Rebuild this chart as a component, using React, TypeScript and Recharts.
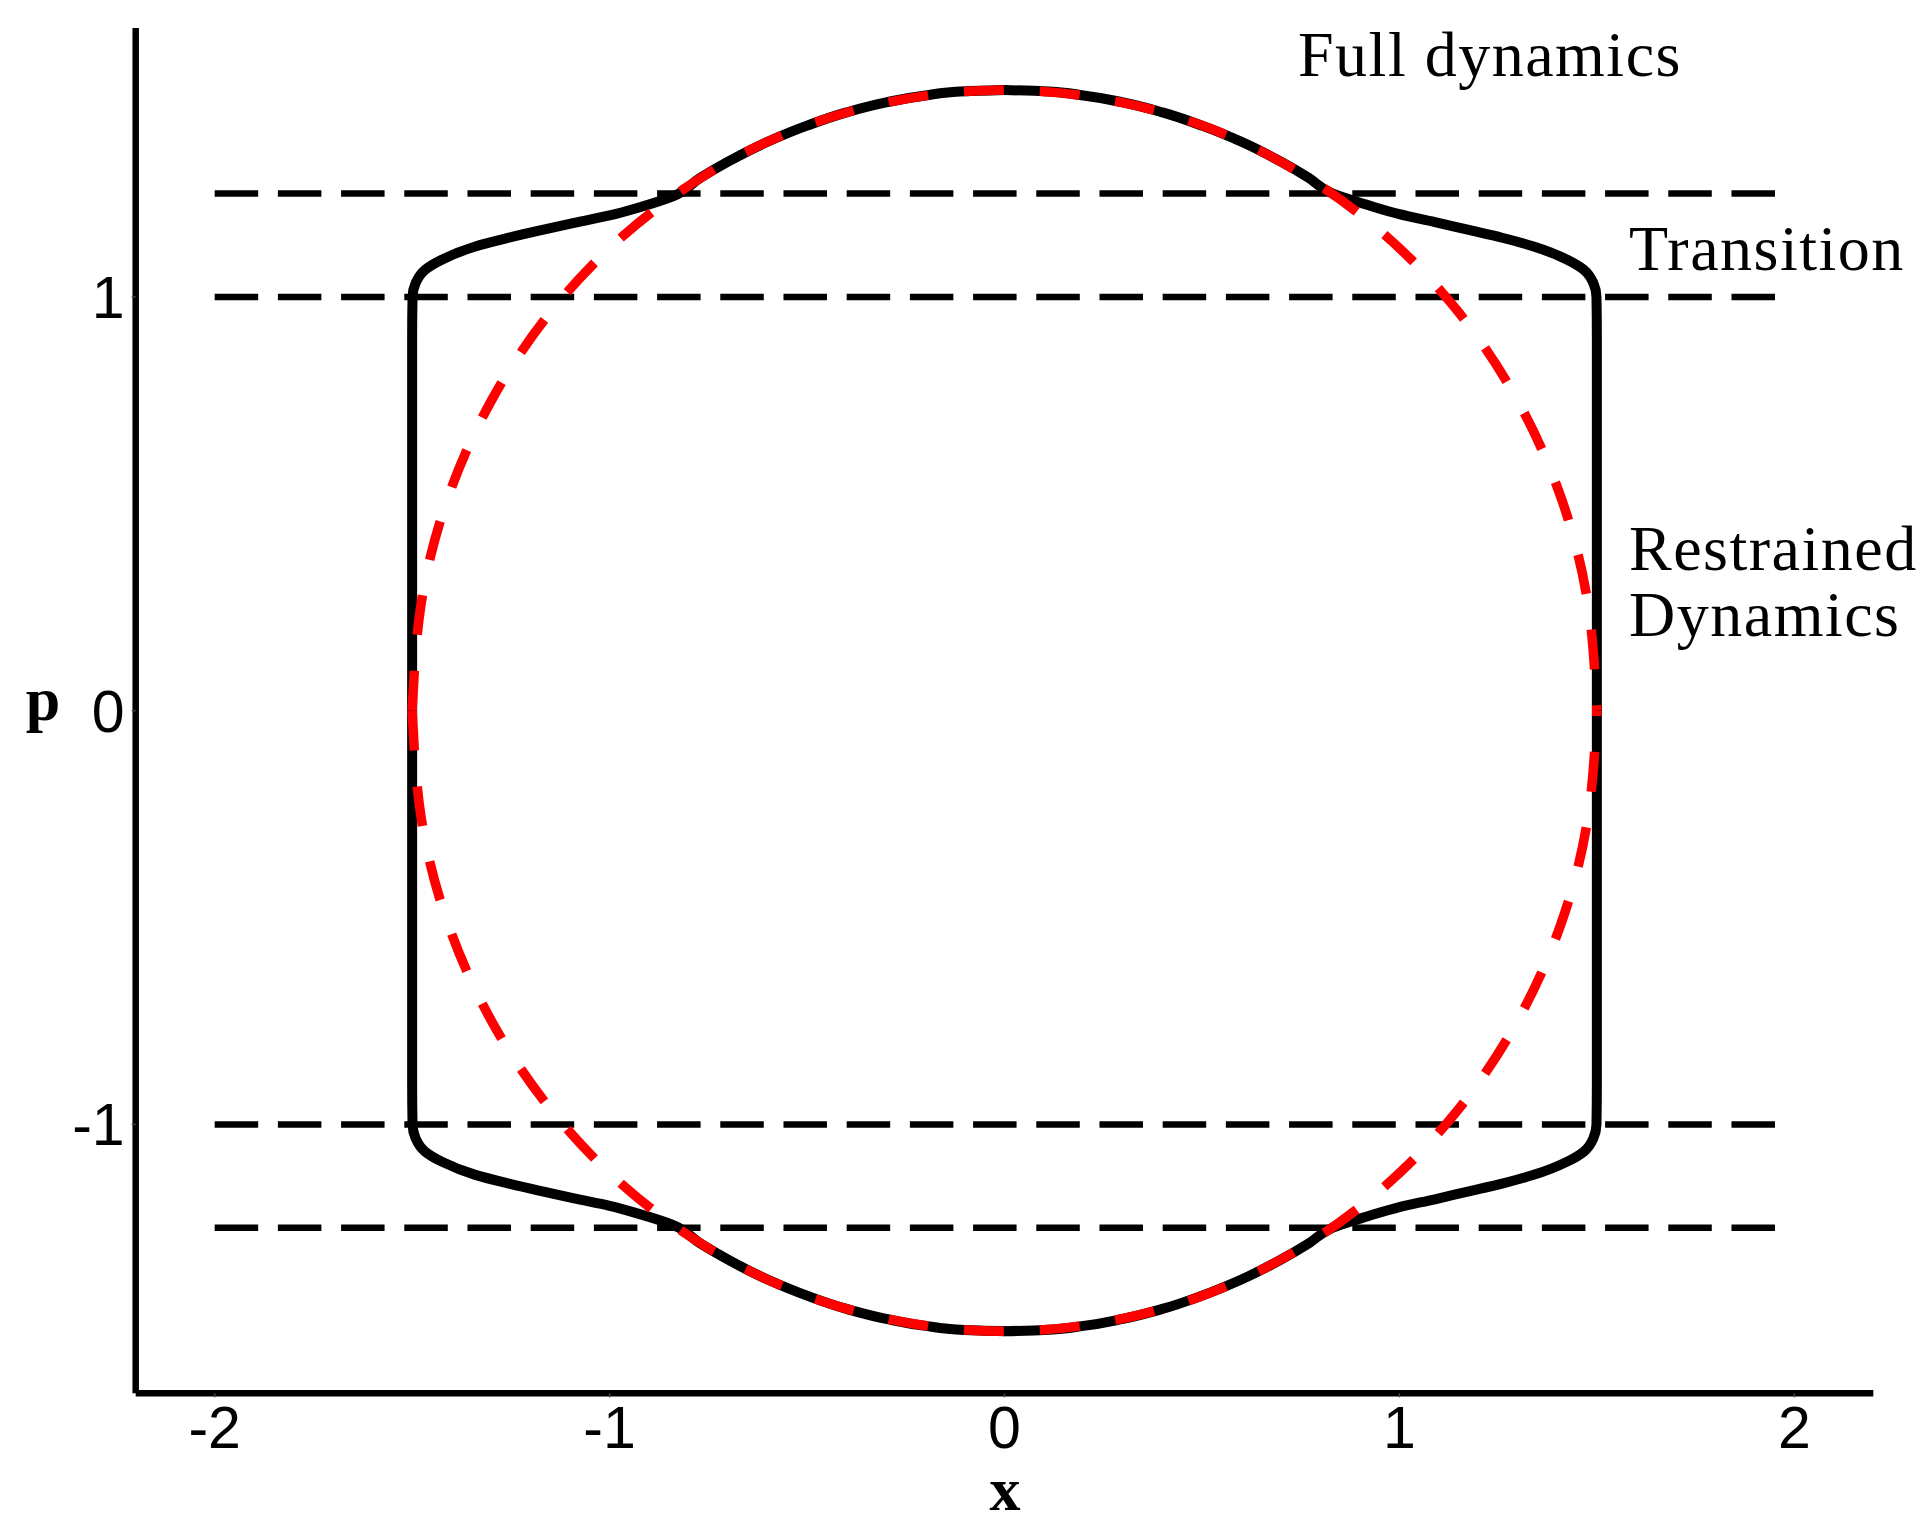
import { LineChart, Line, XAxis, YAxis } from 'recharts';

// axis ticks
const xTicks = [-2, -1, 0, 1, 2];
const pTicks = [-1, 0, 1];

// dashed horizontal levels and the x range they cover
const levels = [1.25, 1, -1, -1.25];
const levelSpan = [-2, 2];

// red dashed circle (radius 1.5), upper half left -> right
const upperX = [-1.5, -1.477, -1.41, -1.299, -1.149, -0.964, -0.75, -0.513, -0.26, 0, 0.26, 0.513, 0.75, 0.964, 1.149, 1.299, 1.41, 1.477, 1.5];
const upperP = [0, 0.26, 0.513, 0.75, 0.964, 1.149, 1.299, 1.41, 1.477, 1.5, 1.477, 1.41, 1.299, 1.149, 0.964, 0.75, 0.513, 0.26, 0];
// lower half left -> right
const lowerX = [-1.5, -1.477, -1.41, -1.299, -1.149, -0.964, -0.75, -0.513, -0.26, 0, 0.26, 0.513, 0.75, 0.964, 1.149, 1.299, 1.41, 1.477, 1.5];
const lowerP = [0, -0.26, -0.513, -0.75, -0.964, -1.149, -1.299, -1.41, -1.477, -1.5, -1.477, -1.41, -1.299, -1.149, -0.964, -0.75, -0.513, -0.26, 0];

// black boundary, right half top -> bottom
const rightX = [0, 0.1, 0.2, 0.3, 0.4, 0.5, 0.6, 0.7, 0.77, 0.83, 0.92, 1.0, 1.09, 1.17, 1.26, 1.34, 1.425, 1.468, 1.491, 1.499, 1.5, 1.5, 1.5, 1.5, 1.5, 1.499, 1.491, 1.468, 1.425, 1.34, 1.26, 1.17, 1.09, 1.0, 0.92, 0.83, 0.77, 0.7, 0.6, 0.5, 0.4, 0.3, 0.2, 0.1, 0];
const rightP = [1.5, 1.497, 1.487, 1.47, 1.446, 1.414, 1.375, 1.327, 1.288, 1.25, 1.222, 1.2, 1.181, 1.163, 1.143, 1.122, 1.09, 1.065, 1.034, 1.0, 0.9, 0.5, 0, -0.5, -0.9, -1.0, -1.034, -1.065, -1.09, -1.122, -1.143, -1.163, -1.181, -1.2, -1.222, -1.25, -1.288, -1.327, -1.375, -1.414, -1.446, -1.47, -1.487, -1.497, -1.5];
// left half top -> bottom
const leftX = [0, -0.1, -0.2, -0.3, -0.4, -0.5, -0.6, -0.7, -0.77, -0.84, -0.93, -1.0, -1.09, -1.17, -1.26, -1.34, -1.425, -1.468, -1.491, -1.499, -1.5, -1.5, -1.5, -1.5, -1.5, -1.499, -1.491, -1.468, -1.425, -1.34, -1.26, -1.17, -1.09, -1.0, -0.93, -0.84, -0.77, -0.7, -0.6, -0.5, -0.4, -0.3, -0.2, -0.1, 0];
const leftP = [1.5, 1.497, 1.487, 1.47, 1.446, 1.414, 1.375, 1.327, 1.288, 1.243, 1.215, 1.197, 1.179, 1.162, 1.142, 1.122, 1.09, 1.065, 1.034, 1.0, 0.9, 0.5, 0, -0.5, -0.9, -1.0, -1.034, -1.065, -1.09, -1.122, -1.142, -1.162, -1.179, -1.197, -1.215, -1.243, -1.288, -1.327, -1.375, -1.414, -1.446, -1.47, -1.487, -1.497, -1.5];

const pts = (xs: number[], ps: number[]) => xs.map((x, i) => ({ x, p: ps[i] }));

const serif = '"Liberation Serif", "Times New Roman", serif';
const sans = '"Liberation Sans", Arial, sans-serif';

export default function App() {
  return (
    <div style={{ position: 'relative', width: 1922, height: 1522, overflow: 'hidden', background: '#fff' }}>
      <style>{'body{margin:0}'}</style>
      <LineChart width={1922} height={1522} margin={{ top: 28, right: 48.7, bottom: 68.7, left: 0 }}>
        <XAxis
          type="number"
          dataKey="x"
          domain={[-2.2, 2.2]}
          ticks={xTicks}
          interval={0}
          allowDataOverflow
          height={60}
          tickSize={4}
          tickMargin={9}
          axisLine={{ stroke: '#000', strokeWidth: 6.5 }}
          tickLine={{ stroke: '#444', strokeWidth: 1.5 }}
          tick={{ fill: '#000', fontSize: 59, fontFamily: sans }}
        />
        <YAxis
          type="number"
          domain={[-1.65, 1.65]}
          ticks={pTicks}
          interval={0}
          allowDataOverflow
          width={135.7}
          tickSize={4}
          tickMargin={7}
          axisLine={{ stroke: '#000', strokeWidth: 6.5 }}
          tickLine={{ stroke: '#444', strokeWidth: 1.5 }}
          tick={{ fill: '#000', fontSize: 59, fontFamily: sans }}
        />
        {levels.map((lv, i) => (
          <Line
            key={'lv' + i}
            data={levelSpan.map((x) => ({ x, p: lv }))}
            dataKey="p"
            type="linear"
            stroke="#000"
            strokeWidth={6.5}
            strokeDasharray="43.5 19.7"
            dot={false}
            activeDot={false}
            isAnimationActive={false}
          />
        ))}
        <Line data={pts(rightX, rightP)} dataKey="p" type="monotoneY" stroke="#000" strokeWidth={10} strokeLinejoin="round" strokeLinecap="round" dot={false} activeDot={false} isAnimationActive={false} />
        <Line data={pts(leftX, leftP)} dataKey="p" type="monotoneY" stroke="#000" strokeWidth={10} strokeLinejoin="round" strokeLinecap="round" dot={false} activeDot={false} isAnimationActive={false} />
        <Line data={pts(upperX, upperP)} dataKey="p" type="natural" stroke="#ff0000" strokeWidth={9.5} strokeDasharray="40 36" dot={false} activeDot={false} isAnimationActive={false} />
        <Line data={pts(lowerX, lowerP)} dataKey="p" type="natural" stroke="#ff0000" strokeWidth={9.5} strokeDasharray="40 36" dot={false} activeDot={false} isAnimationActive={false} />
      </LineChart>
      <svg width={1922} height={1522} style={{ position: 'absolute', left: 0, top: 0, pointerEvents: 'none' }}>
        <g fontFamily={serif} fontSize={64} fill="#000" letterSpacing={1.5}>
          <text x={1298} y={76}>Full dynamics</text>
          <text x={1629} y={270}>Transition</text>
          <text x={1629} y={570}>Restrained</text>
          <text x={1629} y={636}>Dynamics</text>
        </g>
        <g fontFamily={serif} fontSize={62} fontWeight="bold" fill="#000" textAnchor="middle">
          <text x={43} y={720}>p</text>
          <text x={1005} y={1510}>x</text>
        </g>
      </svg>
    </div>
  );
}
